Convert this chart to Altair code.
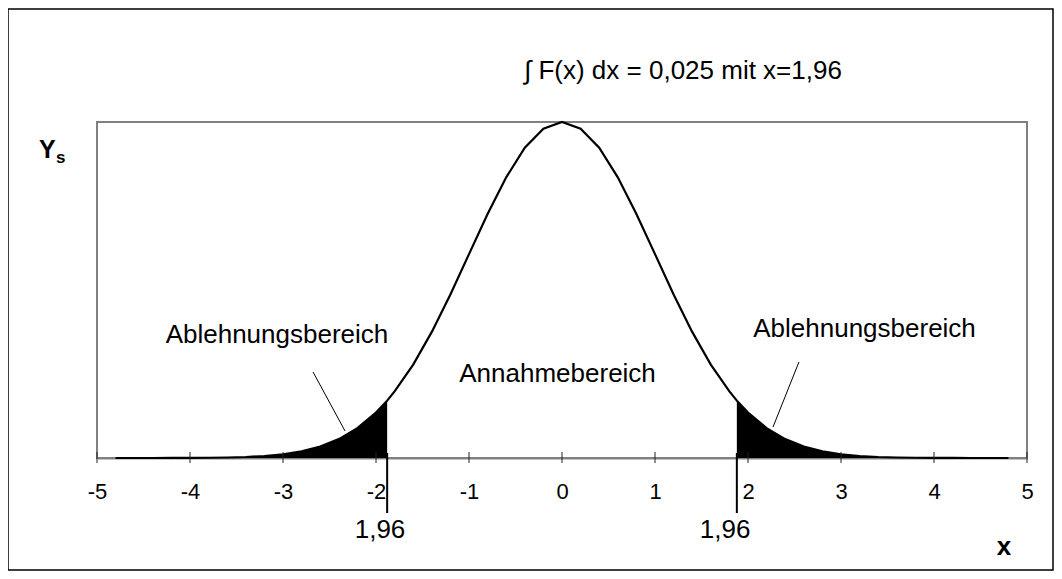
import altair as alt
import pandas as pd

# Curve (density values, peak touches the top of the frame)
curve_x = [-4.8, -4.6, -4.4, -4.2, -4.0, -3.8, -3.6, -3.4, -3.2, -3.0, -2.8, -2.6, -2.4, -2.2, -2.0,
           -1.88, -1.8, -1.6, -1.4, -1.2, -1.0, -0.8, -0.6, -0.4, -0.2, 0.0,
           0.2, 0.4, 0.6, 0.8, 1.0, 1.2, 1.4, 1.6, 1.8, 1.88,
           2.0, 2.2, 2.4, 2.6, 2.8, 3.0, 3.2, 3.4, 3.6, 3.8, 4.0, 4.2, 4.4, 4.6, 4.8]
curve_y = [0.0000, 0.0000, 0.0000, 0.0001, 0.0001, 0.0003, 0.0006, 0.0012, 0.0024, 0.0044, 0.0079, 0.0136, 0.0224, 0.0355, 0.0540,
           0.0681, 0.0790, 0.1109, 0.1497, 0.1942, 0.2420, 0.2897, 0.3332, 0.3683, 0.3910, 0.3989,
           0.3910, 0.3683, 0.3332, 0.2897, 0.2420, 0.1942, 0.1497, 0.1109, 0.0790, 0.0681,
           0.0540, 0.0355, 0.0224, 0.0136, 0.0079, 0.0044, 0.0024, 0.0012, 0.0006, 0.0003, 0.0001, 0.0001, 0.0000, 0.0000, 0.0000]

boundary = 1.88          # where the shading / marker lines are drawn in the picture
tick_values = [-5, -4, -3, -2, -1, 0, 1, 2, 3, 4, 5]
y_max = 0.3989

title_text = "\u222B F(x) dx = 0,025 mit x=1,96"
region_labels = ["Ablehnungsbereich", "Annahmebereich", "Ablehnungsbereich"]
region_x = [-3.065, -0.048, 3.253]
region_y = [0.1365, 0.0902, 0.1437]

pointer_x = [-2.677, 2.548]
pointer_x2 = [-2.333, 2.269]
pointer_y = [0.1021, 0.1140]
pointer_y2 = [0.0321, 0.0368]

crit_x = [-boundary, boundary]
crit_label_x = [-1.957, 1.753]
crit_label = ["1,96", "1,96"]

FONT = "Liberation Sans"

df = pd.DataFrame({"x": curve_x, "y": curve_y})
df_left = df[df["x"] <= -boundary]
df_right = df[df["x"] >= boundary]

xscale = alt.Scale(domain=[-5, 5], nice=False, zero=False)
yscale = alt.Scale(domain=[0, y_max], nice=False, zero=True)

base_x = alt.X("x:Q", scale=xscale,
               axis=alt.Axis(values=tick_values, ticks=False, grid=False, domain=True,
                             domainColor="#111111", domainWidth=1.5,
                             labelFont=FONT, labelFontSize=22, labelColor="#000000",
                             labelPadding=23, labelExpr="toString(datum.value)",
                             title=None, labelFlush=False))

area_left = alt.Chart(df_left).mark_area(color="#000000", opacity=1).encode(
    x=base_x, y=alt.Y("y:Q", scale=yscale, axis=None))
area_right = alt.Chart(df_right).mark_area(color="#000000", opacity=1).encode(
    x=alt.X("x:Q", scale=xscale), y=alt.Y("y:Q", scale=yscale))

line = alt.Chart(df).mark_line(color="#000000", strokeWidth=2.2).encode(
    x=alt.X("x:Q", scale=xscale), y=alt.Y("y:Q", scale=yscale))

ticks_df = pd.DataFrame({"t": tick_values})
ticks = alt.Chart(ticks_df).mark_rule(color="#222222", strokeWidth=1).encode(
    x=alt.X("t:Q", scale=xscale), y=alt.value(330), y2=alt.value(341))

crit_df = pd.DataFrame({"cx": crit_x, "lx": crit_label_x, "lab": crit_label})
crit_lines = alt.Chart(crit_df).mark_rule(color="#000000", strokeWidth=2).encode(
    x=alt.X("cx:Q", scale=xscale), y=alt.value(331), y2=alt.value(391))
crit_text = alt.Chart(crit_df).mark_text(font=FONT, fontSize=26, color="#000000",
                                         align="center", baseline="alphabetic").encode(
    x=alt.X("lx:Q", scale=xscale), y=alt.value(416), text="lab:N")

reg_df = pd.DataFrame({"rx": region_x, "ry": region_y, "lab": region_labels})
reg_text = alt.Chart(reg_df).mark_text(font=FONT, fontSize=26, color="#000000",
                                       align="center", baseline="alphabetic").encode(
    x=alt.X("rx:Q", scale=xscale), y=alt.Y("ry:Q", scale=yscale), text="lab:N")

ptr_df = pd.DataFrame({"px": pointer_x, "px2": pointer_x2, "py": pointer_y, "py2": pointer_y2})
pointers = alt.Chart(ptr_df).mark_rule(color="#000000", strokeWidth=1).encode(
    x=alt.X("px:Q", scale=xscale), x2="px2:Q",
    y=alt.Y("py:Q", scale=yscale), y2="py2:Q")

one = pd.DataFrame({"a": [0]})
title_mark = alt.Chart(one).mark_text(font=FONT, fontSize=26, color="#000000",
                                      align="center", baseline="alphabetic").encode(
    x=alt.value(586), y=alt.value(-43), text=alt.value(title_text))
y_label = alt.Chart(one).mark_text(font=FONT, fontSize=25, fontWeight="bold", color="#000000",
                                   align="left", baseline="alphabetic").encode(
    x=alt.value(-58), y=alt.value(36), text=alt.value("Y"))
y_sub = alt.Chart(one).mark_text(font=FONT, fontSize=17, fontWeight="bold", color="#000000",
                                 align="left", baseline="alphabetic").encode(
    x=alt.value(-41), y=alt.value(41), text=alt.value("s"))
x_label = alt.Chart(one).mark_text(font=FONT, fontSize=26, fontWeight="bold", color="#000000",
                                   align="center", baseline="alphabetic").encode(
    x=alt.value(907), y=alt.value(433), text=alt.value("x"))
plot_frame = alt.Chart(one).mark_rect(fill=None, stroke="#808080", strokeWidth=2).encode(
    x=alt.value(0), x2=alt.value(930), y=alt.value(0), y2=alt.value(336))
frame = alt.Chart(one).mark_rect(fill=None, stroke="#000000", strokeWidth=1.5).encode(
    x=alt.value(-89), x2=alt.value(956), y=alt.value(-113), y2=alt.value(448))

chart = alt.layer(
    plot_frame, area_left, area_right, line, ticks, crit_lines, crit_text, reg_text, pointers,
    title_mark, y_label, y_sub, x_label, frame
).properties(
    width=930, height=336,
    autosize=alt.AutoSizeParams(type="none"),
    padding={"left": 89, "top": 114, "right": 27, "bottom": 114},
).configure_view(
    stroke=None
).configure(background="#ffffff")

chart.save("out.html", embed_options={"renderer": "svg", "actions": False})
